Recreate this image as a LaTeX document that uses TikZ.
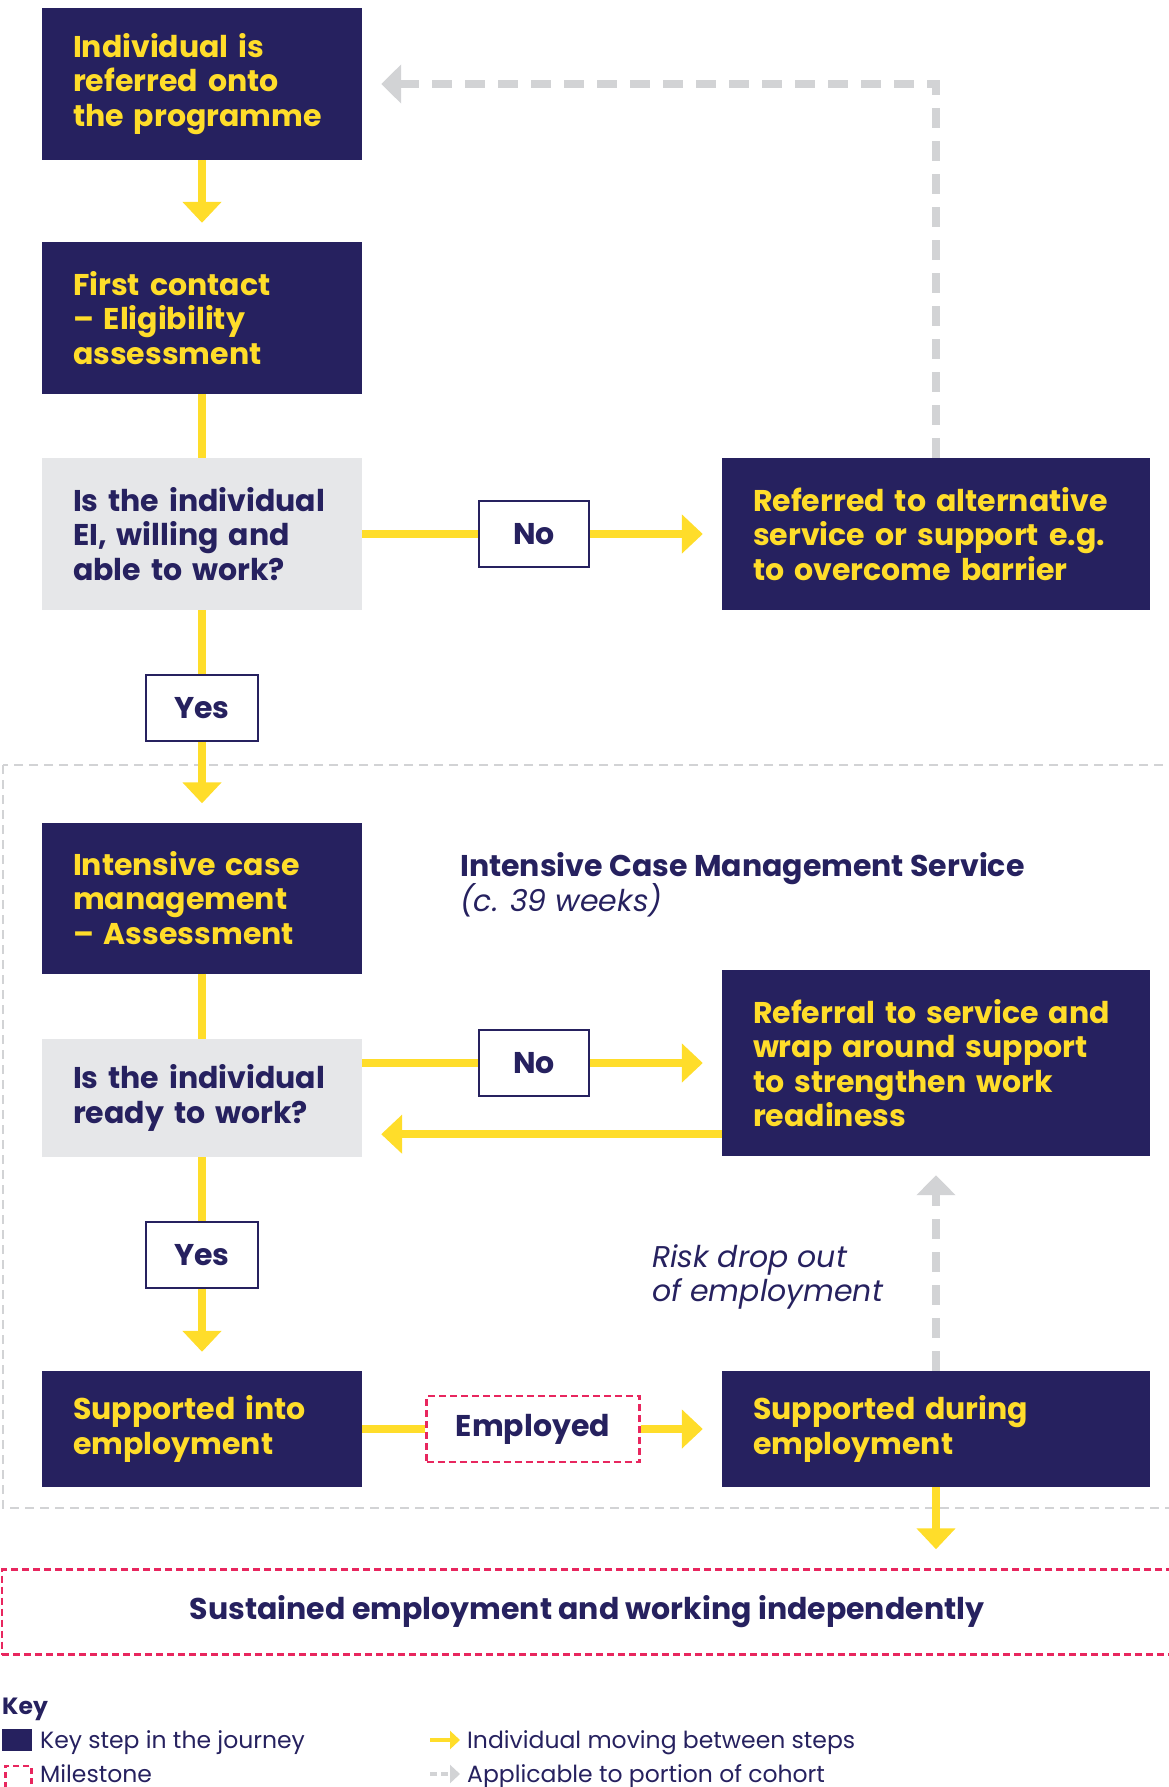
\documentclass[tikz,border=0pt]{standalone}
\usepackage{fontspec}
\setmainfont{Poppins}
\usetikzlibrary{arrows.meta, positioning}

\definecolor{navy}{RGB}{38,33,95}
\definecolor{sun}{RGB}{255,221,42}
\definecolor{paleq}{RGB}{230,231,233}
\definecolor{ashgrey}{RGB}{210,211,213}
\definecolor{rose}{RGB}{232,38,94}

\newcommand\boxfont{\fontsize{30}{34.5}\selectfont\bfseries}
\newcommand\keyfont{\fontsize{23.5}{26}\selectfont}

\tikzset{
  keystep/.style={rectangle, fill=navy, text=sun, font=\boxfont, align=left, inner xsep=31pt, inner ysep=0pt},
  leftcol/.style={text width=258pt, minimum width=320pt},
  rightcol/.style={text width=366pt, minimum width=428pt},
  question/.style={keystep, fill=paleq, text=navy},
  answer/.style={rectangle, draw=navy, line width=2.5pt, fill=white, text=navy, font=\boxfont, minimum height=66pt, inner sep=0pt},
  milestone/.style={answer, draw=rose, dash pattern=on 7pt off 4pt},
  move/.style={sun, line width=8pt},
  movearrow/.style={move, -{Triangle[width=38pt,length=21pt]}, shorten >=19pt},
  partial/.style={ashgrey, line width=8pt, dash pattern=on 20pt off 13pt, -{Triangle[width=38pt,length=20pt]}, shorten >=19pt},
  note/.style={text=navy, inner sep=0pt, anchor=base west, font=\fontsize{30}{34.5}\selectfont},
  keytext/.style={text=navy, font=\keyfont, inner sep=0pt, anchor=base west}
}

\begin{document}
\begin{tikzpicture}[x=1pt,y=-1pt]
\useasboundingbox (0,0) rectangle (1168,1787);

% intensive case management region
\draw[ashgrey, line width=2.5pt, dash pattern=on 9pt off 6pt] (3,765) rectangle (1175,1508);

% steps, left column
\node[keystep, leftcol, minimum height=152pt] (refer) at (202,84) {Individual is\\referred onto\\the programme};
\node[keystep, leftcol, minimum height=152pt] (first) at (202,318) {First contact\\-- Eligibility\\assessment};
\node[question, leftcol, minimum height=152pt] (q1) at (202,534) {Is the individual\\EI, willing and\\able to work?};
\node[answer, minimum width=110pt] (no1) at (534,534) {No};
\node[keystep, rightcol, minimum height=152pt] (alt) at (936,534) {Referred to alternative\\service or support e.g.\\to overcome barrier};
\node[answer, minimum width=112pt] (yes1) at (202,708) {Yes};

\node[keystep, leftcol, minimum height=151pt] (icm) at (202,898) {Intensive case\\management\\-- Assessment};
\node[note, font=\fontsize{30}{34.5}\selectfont\bfseries] (title) at (460,876) {Intensive Case Management Service};
\node[note, font=\fontsize{30}{34.5}\selectfont\itshape] (weeks) at (460,911) {(c. 39 weeks)};
\node[question, leftcol, minimum height=118pt] (q2) at (202,1098) {Is the individual\\ready to work?};
\node[answer, minimum width=110pt] (no2) at (534,1063) {No};
\node[keystep, rightcol, minimum height=186pt] (wrap) at (936,1063) {Referral to service and\\wrap around support\\to strengthen work\\readiness};
\node[answer, minimum width=112pt] (yes2) at (202,1255) {Yes};
\node[note, font=\fontsize{30}{34.5}\selectfont\itshape] (risk) at (652,1267) {Risk drop out};
\node[note, font=\fontsize{30}{34.5}\selectfont\itshape] (riskb) at (652,1301) {of employment};

\node[keystep, leftcol, minimum height=116pt] (into) at (202,1429) {Supported into\\employment};
\node[milestone, minimum width=213pt] (emp) at (533,1429) {Employed};
\node[keystep, rightcol, minimum height=116pt] (during) at (936,1429) {Supported during\\employment};

\node[milestone, minimum width=1170pt, minimum height=85pt] (sust) at (587,1612) {Sustained employment and working independently};

% connectors
\draw[movearrow] (refer) -- (first);
\draw[move] (first) -- (q1);
\draw[move] (q1) -- (no1);
\draw[movearrow] (no1) -- (alt);
\draw[move] (q1) -- (yes1);
\draw[movearrow] (yes1) -- (icm);
\draw[move] (icm) -- (q2);
\draw[move] (q2.east |- no2.west) -- (no2.west);
\draw[movearrow] (no2) -- (wrap);
\draw[movearrow] ([yshift=22pt]wrap.south west) coordinate (back) -- (q2.east |- back);
\draw[move] (q2) -- (yes2);
\draw[movearrow] (yes2) -- (into);
\draw[move] (into) -- (emp);
\draw[movearrow] (emp) -- (during);
\draw[movearrow] (during) -- (during.south |- sust.north);
\draw[partial] (alt.north) |- (refer.east);
\draw[partial] (during.north) -- (wrap.south);

% key
\node[keytext, font=\keyfont\bfseries] (key) at (2,1714) {Key};
\node[fill=navy, minimum width=30pt, minimum height=22pt, inner sep=0pt, anchor=west] (keysq) at (2,1740) {};
\node[keytext] (keysqt) at (40,1748) {Key step in the journey};
\node[draw=rose, line width=2.5pt, dash pattern=on 6pt off 4pt, minimum width=26pt, minimum height=22pt, inner sep=0pt, anchor=west] (keyms) at (4,1777) {};
\node[keytext] (keymst) at (40,1782) {Milestone};
\coordinate (kya) at (430,1740);
\coordinate (kyb) at (460,1740);
\draw[sun, line width=4pt, -{Triangle[width=18pt,length=10pt]}] (kya) -- (kyb);
\node[keytext] (kyt) at (467,1748) {Individual moving between steps};
\coordinate (kga) at (430,1774);
\coordinate (kgb) at (460,1774);
\draw[ashgrey, line width=4pt, dash pattern=on 7pt off 4pt, -{Triangle[width=18pt,length=10pt]}] (kga) -- (kgb);
\node[keytext] (kgt) at (467,1782) {Applicable to portion of cohort};
\end{tikzpicture}
\end{document}
